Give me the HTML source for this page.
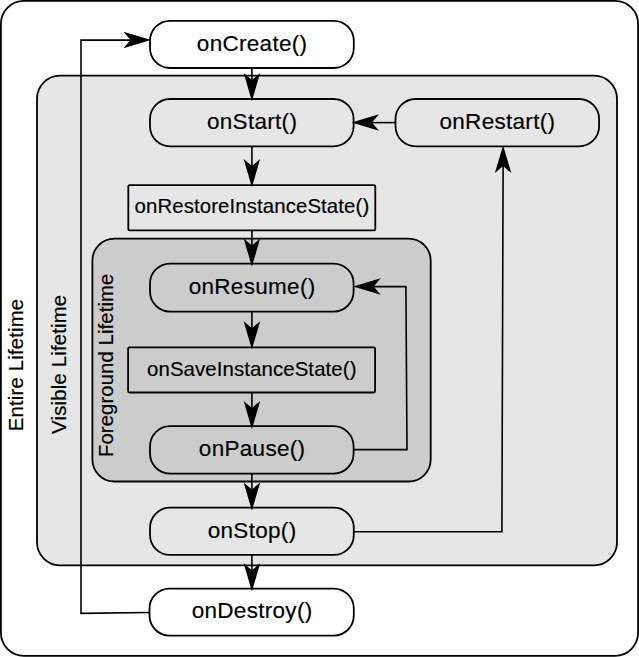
<!DOCTYPE html>
<html><head><meta charset="utf-8">
<style>
html,body{margin:0;padding:0;background:#fff;overflow:hidden;}
svg{display:block;}
text{font-family:"Liberation Sans",sans-serif;fill:#000;stroke:#000;stroke-width:0.18px;}
</style></head>
<body>
<svg width="639" height="657" viewBox="0 0 639 657">
<rect x="0.9" y="0.9" width="637.2" height="654.9" rx="23" ry="23" fill="#fff" stroke="#000" stroke-width="1.8"/>
<rect x="37" y="75.6" width="580" height="489.7" rx="23" ry="23" fill="#e6e6e6" stroke="#000" stroke-width="1.8"/>
<rect x="92.4" y="238.7" width="338.3" height="242.8" rx="22" ry="22" fill="#cccccc" stroke="#000" stroke-width="1.8"/>
<g fill="none" stroke="#000" stroke-width="1.6">
<polyline points="150,612.5 81,613.4 81,40.1 131,40.1"/>
<line x1="251.9" y1="68" x2="251.9" y2="80"/>
<line x1="251.9" y1="146" x2="251.9" y2="166"/>
<line x1="251.9" y1="230" x2="251.9" y2="246"/>
<line x1="251.9" y1="311" x2="251.9" y2="328"/>
<line x1="251.9" y1="392" x2="251.9" y2="408"/>
<line x1="251.9" y1="473" x2="251.9" y2="489"/>
<line x1="251.9" y1="555" x2="251.9" y2="570"/>
<line x1="396" y1="122.6" x2="372" y2="122.6"/>
<polyline points="353,449.6 407,449.6 405.9,286.6 373,286.6"/>
<polyline points="353,531.8 501.9,531.8 503.1,166"/>
</g>
<g stroke="#000" stroke-width="1.8">
<rect x="150" y="20.8" width="203.8" height="47.2" rx="20" fill="#fff"/>
<rect x="150" y="99.0" width="203.6" height="47.3" rx="20" fill="#e6e6e6"/>
<rect x="395.5" y="99.0" width="203.6" height="47.3" rx="20" fill="#e6e6e6"/>
<rect x="128.3" y="185.1" width="247" height="45.3" rx="1.5" fill="#e6e6e6"/>
<rect x="150" y="263.6" width="203.6" height="48" rx="20" fill="#cccccc"/>
<rect x="128.1" y="347.3" width="247" height="45.2" rx="1.5" fill="#cccccc"/>
<rect x="150" y="426.2" width="203.6" height="47.4" rx="20" fill="#cccccc"/>
<rect x="150" y="507.7" width="203.8" height="47.2" rx="20" fill="#e6e6e6"/>
<rect x="149.5" y="588.6" width="204.3" height="47" rx="20" fill="#fff"/>
</g>
<g fill="#000">
<path d="M151,40.1 L123.5,31.85 L130.5,40.1 L123.5,48.35 Z"/>
<path d="M251.9,101.3 L243.65,73.00 L251.9,80.00 L260.15,73.00 Z"/>
<path d="M251.9,187.3 L243.65,159.00 L251.9,166.00 L260.15,159.00 Z"/>
<path d="M251.9,266.8 L243.65,238.50 L251.9,245.50 L260.15,238.50 Z"/>
<path d="M251.9,349.6 L243.65,321.30 L251.9,328.30 L260.15,321.30 Z"/>
<path d="M251.9,429.2 L243.65,400.90 L251.9,407.90 L260.15,400.90 Z"/>
<path d="M251.9,510.7 L243.65,482.40 L251.9,489.40 L260.15,482.40 Z"/>
<path d="M251.9,591.6 L243.65,563.30 L251.9,570.30 L260.15,563.30 Z"/>
<path d="M351.5,122.6 L379.0,114.35 L372.0,122.6 L379.0,130.85 Z"/>
<path d="M353.2,286.6 L380.7,278.35 L373.7,286.6 L380.7,294.85 Z"/>
<path d="M503.1,145.6 L494.85,173.1 L503.1,166.1 L511.35,173.1 Z"/>
</g>
<g font-size="22.5" text-anchor="middle" letter-spacing="0.3">
<text x="252.1" y="50.8">onCreate()</text>
<text x="252.1" y="129.1">onStart()</text>
<text x="497.4" y="129.2">onRestart()</text>
<text x="252.1" y="293.9">onResume()</text>
<text x="252.1" y="456.3">onPause()</text>
<text x="252.1" y="537.8">onStop()</text>
<text x="252.1" y="618.4">onDestroy()</text>
</g>
<g font-size="20.4" text-anchor="middle" letter-spacing="0.1">
<text x="251.9" y="213.4">onRestoreInstanceState()</text>
<text x="251.8" y="375.9">onSaveInstanceState()</text>
</g>
<g font-size="20.3" text-anchor="middle" letter-spacing="0.2">
<text transform="translate(23.4,365) rotate(-90)">Entire Lifetime</text>
<text transform="translate(66.2,364.3) rotate(-90)">Visible Lifetime</text>
<text transform="translate(112.8,365.3) rotate(-90)" letter-spacing="0.1">Foreground Lifetime</text>
</g>
</svg>
</body></html>
